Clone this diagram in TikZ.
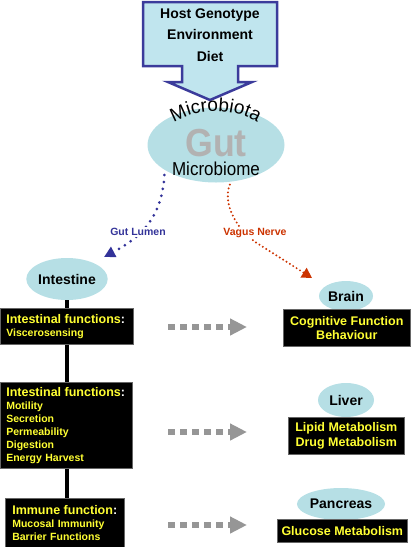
\documentclass[tikz,border=0pt]{standalone}
\usepackage{fontspec}
\setmainfont{Liberation Sans}
\usetikzlibrary{arrows.meta,decorations.text,shapes.geometric}
\definecolor{hostfill}{RGB}{192,229,238}
\definecolor{hostline}{RGB}{59,59,155}
\definecolor{organfill}{RGB}{182,223,229}
\definecolor{lumen}{RGB}{51,51,153}
\definecolor{vagus}{RGB}{204,51,0}
\definecolor{fntext}{RGB}{255,255,51}
\definecolor{signal}{RGB}{150,150,150}
\newcommand{\fnhead}{\fontsize{12.5}{14}\selectfont}
\newcommand{\wcolon}{\textcolor{white}{:}}
\tikzset{
  organ/.style={ellipse,fill=organfill,inner sep=0pt,font=\bfseries\fontsize{14}{16}\selectfont},
  fnbox/.style={fill=black,draw=black!60,line width=0.6pt,text=fntext,anchor=north west,
    inner xsep=6pt,inner ysep=0pt,align=left,font=\bfseries\fontsize{10.5}{13}\selectfont},
  outbox/.style={fill=black,draw=black!60,line width=0.6pt,text=fntext,anchor=north west,
    inner sep=0pt,align=center,font=\bfseries\fontsize{12.5}{14.5}\selectfont},
  pathlabel/.style={fill=white,inner sep=1pt,font=\bfseries\fontsize{10.5}{12}\selectfont},
  signal arrow/.style={signal,line width=5.5pt,dash pattern=on 7pt off 5pt,
    -{Triangle[length=17pt,width=16pt]}},
  spine/.style={line width=3.5pt},
  gutfont/.style={font=\bfseries\fontsize{34}{34}\selectfont,inner sep=0pt}
}
\begin{document}
\begin{tikzpicture}[x=1pt,y=-1pt]
  \useasboundingbox (0,0) rectangle (413,547);
  \draw[hostline,fill=hostfill,line width=2.5pt,line join=miter]
    (143,2) -- (277,2) -- (277,66) -- (238,66) -- (238,82) -- (252,82) -- (210,100)
    -- (168,82) -- (182,82) -- (182,66) -- (143,66) -- cycle;
  \node[align=center,font=\bfseries\fontsize{14}{21.5}\selectfont] (host) at (210,35)
    {Host Genotype\\Environment\\Diet};

  \node[organ,minimum width=137pt,minimum height=75pt] (gut) at (216,145) {};
  \path[decorate,decoration={text along path,text align=center,
    text={|\fontsize{19}{19}\selectfont|Microbiota}}]
    (167,127) .. controls (194,106) and (239,106) .. (264,127);
  \node[gutfont,text=gray!60] (gutword) at (216,143.5) {\scalebox{1.05}[1.15]{Gut}};
  \node[font=\fontsize{17}{17}\selectfont,inner sep=0pt] (biome) at (216,168.5) {\scalebox{1}[1.1]{Microbiome}};

  \coordinate (lumenend) at (104,257);
  \coordinate (vagusend) at (312,278);
  \draw[lumen,line width=3pt,line cap=round,dash pattern=on 0pt off 7pt,shorten <=5pt,
    -{Triangle[length=11pt,width=11pt]}]
    (gut.206) .. controls (162,218) and (140,238) .. (lumenend);
  \node[pathlabel,text=lumen] (lumenlabel) at (138,232) {Gut Lumen};
  \draw[vagus,line width=2.2pt,line cap=round,dash pattern=on 0pt off 4pt,shorten <=3pt,
    -{Triangle[length=10pt,width=11pt]}]
    (gut.292) .. controls (222,205) and (238,232) .. (260,245) -- (vagusend);
  \node[pathlabel,text=vagus] (vaguslabel) at (255,233) {Vagus Nerve};

  \node[organ,minimum width=72pt,minimum height=42pt] (intestine) at (67,279) {Intestine};
  \node[organ,minimum width=54pt,minimum height=30pt] (brain) at (346,296) {Brain};
  \node[organ,minimum width=56pt,minimum height=34pt] (liver) at (346,400) {Liver};
  \node[organ,minimum width=66pt,minimum height=32pt] (pancreas) at (341,504) {Pancreas};

  \node[fnbox,text width=121pt,minimum height=36pt] (visc) at (0,308)
    {{\fnhead Intestinal functions\wcolon}\\Viscerosensing};
  \node[fnbox,text width=120pt,minimum height=86pt] (motil) at (0,382)
    {{\fnhead Intestinal functions\wcolon}\\Motility\\Secretion\\Permeability\\Digestion\\Energy Harvest};
  \node[fnbox,inner xsep=7pt,text width=105pt,minimum height=49pt] (immune) at (5,498)
    {{\fnhead Immune function\wcolon}\\Mucosal Immunity\\Barrier Functions};

  \node[outbox,minimum width=127pt,minimum height=37pt] (cognit) at (283,309)
    {Cognitive Function\\Behaviour};
  \node[outbox,minimum width=116pt,minimum height=37pt] (lipid) at (288,417)
    {Lipid Metabolism\\Drug Metabolism};
  \node[outbox,minimum width=130pt,minimum height=23pt] (glucose) at (277,519)
    {Glucose Metabolism};

  \draw[spine] (intestine) -- (intestine |- visc.north)
    (intestine |- visc.south) -- (intestine |- motil.north)
    (intestine |- motil.south) -- (intestine |- immune.north);

  \coordinate (sig1a) at (168,327); \coordinate (sig1b) at (247,327);
  \coordinate (sig2a) at (168,432); \coordinate (sig2b) at (247,432);
  \coordinate (sig3a) at (168,525); \coordinate (sig3b) at (247,525);
  \draw[signal arrow] (sig1a) -- (sig1b);
  \draw[signal arrow] (sig2a) -- (sig2b);
  \draw[signal arrow] (sig3a) -- (sig3b);
\end{tikzpicture}
\end{document}
